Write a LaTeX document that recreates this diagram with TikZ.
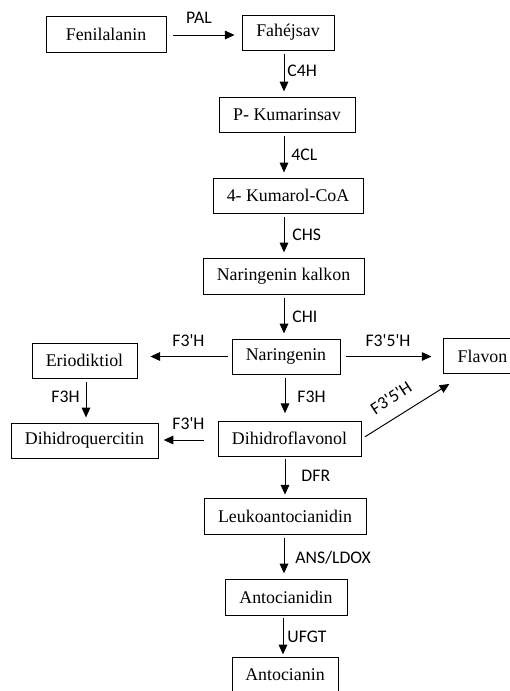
\documentclass[tikz,border=0pt]{standalone}
\usepackage{fontspec}
\setmainfont{Liberation Serif}
\newfontfamily\lblfont{Carlito}
\usetikzlibrary{arrows.meta}

\tikzset{
  box/.style={draw, line width=0.6pt, minimum height=23.5pt, inner sep=0pt, font=\fontsize{12}{14}\selectfont},
  arr/.style={line width=0.65pt, -{Triangle[length=6.5pt,width=5.8pt]}, shorten <=2.5pt, shorten >=3.5pt},
  lbl/.style={font=\lblfont\fontsize{11.9}{13}\selectfont, inner sep=0pt},
}
\newcommand{\ap}{\textquotesingle}

\begin{document}
\begin{tikzpicture}[x=0.672pt, y=-0.672pt]
	\useasboundingbox (0,0) rectangle (510,691);
	\clip (0,0) rectangle (510,691);
	\coordinate (spine) at (284,0);
	\coordinate (lcol) at (86,0);
	\coordinate (mcol) at (285,0);
	\coordinate (ucol) at (283,0);
	\coordinate (toprow) at (0,35);
	\coordinate (dhrow) at (0,440);
	\coordinate (diagrow) at (0,439);
	% main column
	\node[box, minimum width=80.6pt, minimum height=24.2pt] (fen) at (106,34) {Fenilalanin};
	\node[box, minimum width=61.8pt] (fah) at (288,32.5) {Fahéjsav};
	\node[box, minimum width=91.4pt] (pkum) at (287,114.5) {P- Kumarinsav};
	\node[box, minimum width=100.8pt] (kcoa) at (288,195.5) {4- Kumarol-CoA};
	\node[box, minimum width=108.2pt, minimum height=24.2pt] (kalk) at (283.5,276) {Naringenin kalkon};
	\node[box, minimum width=72.6pt] (nar) at (286,356.5) {Naringenin};
	\node[box, minimum width=70.6pt] (erio) at (84.5,360.5) {Eriodiktiol};
	\node[box, minimum width=52pt] (flav) at (482.5,356) {Flavon};
	\node[box, minimum width=98.8pt] (dhq) at (84.5,440.5) {Dihidroquercitin};
	\node[box, minimum width=96.1pt] (dhf) at (289.5,438.5) {Dihidroflavonol};
	\node[box, minimum width=108.9pt, minimum height=24.2pt] (leuko) at (285,516) {Leukoantocianidin};
	\node[box, minimum width=82pt, minimum height=24.2pt] (acid) at (286,597) {Antocianidin};
	\node[box, minimum width=71.2pt] (acin) at (285,674.5) {Antocianin};

	\draw[arr, shorten <=4.7pt, shorten >=4.7pt] (fen.east |- toprow) -- (fah.west |- toprow) node[lbl] at (199,18) {PAL};
	\draw[arr] (fah.south -| spine) -- (pkum.north -| spine) node[lbl, anchor=west] at (287,71) {C4H};
	\draw[arr] (pkum.south -| spine) -- (kcoa.north -| spine) node[lbl, anchor=west] at (291,155) {4CL};
	\draw[arr] (kcoa.south -| spine) -- (kalk.north -| spine) node[lbl, anchor=west] at (292,235) {CHS};
	\draw[arr] (kalk.south -| spine) -- (nar.north -| spine) node[lbl, anchor=west] at (292,317) {CHI};
	\draw[arr, shorten >=8.7pt] (nar.west) -- (erio.east |- nar.west) node[lbl] at (188.5,341) {F3\ap H};
	\draw[arr, shorten <=4pt, shorten >=8pt] (nar.east) -- (flav.west |- nar.east) node[lbl] at (388,341) {F3\ap 5\ap H};
	\draw[arr] (erio.south -| lcol) -- (dhq.north -| lcol) node[lbl] at (65.5,397) {F3H};
	\draw[arr, shorten >=5pt] (nar.south -| mcol) -- (dhf.north -| mcol) node[lbl, anchor=west] at (297,397) {F3H};
	\draw[arr, shorten <=9.4pt] (dhf.west |- dhrow) -- (dhq.east |- dhrow) node[lbl] at (188.5,424) {F3\ap H};
	\draw[arr, shorten <=2.7pt, shorten >=0pt] (dhf.east |- diagrow) -- ([shift={(6,10)}]flav.south west) node[lbl, rotate=33] at (391,398) {F3\ap 5\ap H};
	\draw[arr, shorten <=1.5pt, shorten >=2pt] (dhf.south -| mcol) -- (leuko.north -| mcol) node[lbl, anchor=west] at (301,476) {DFR};
	\draw[arr] (leuko.south -| spine) -- (acid.north -| spine) node[lbl, anchor=west] at (295,558) {ANS/LDOX};
	\draw[arr, shorten <=2pt, shorten >=1.5pt] (acid.south -| ucol) -- (acin.north -| ucol) node[lbl, anchor=west] at (287,637) {UFGT};
\end{tikzpicture}
\end{document}
